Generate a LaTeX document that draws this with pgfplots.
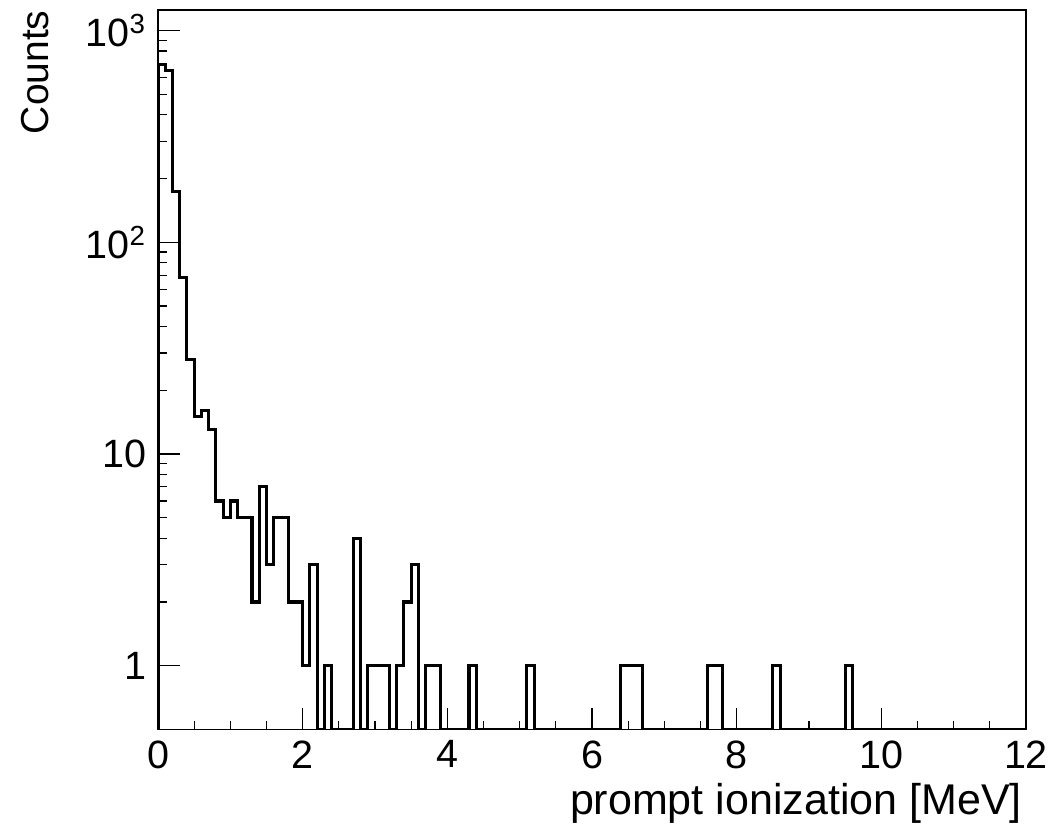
\documentclass[border=0pt]{standalone}
\usepackage{fontspec}
\setmainfont{Liberation Sans}
\usepackage{pgfplots}
\pgfplotsset{compat=1.18}
\begin{document}
\begin{tikzpicture}
\begin{axis}[
  name=ax,
  scale only axis,
  width=347.2pt, height=287.8pt,
  xmin=0, xmax=12,
  ymode=log, ymin=0.5, ymax=1250,
  axis line style={line width=0.5pt},
  xtick={0,2,4,6,8,10,12},
  xticklabels={0,2,4,6,8,10,12},
  minor x tick num=3,
  ytick={1,10,100,1000},
  yticklabels={1,10,10\textsuperscript{2},10\textsuperscript{3}},
  xtick pos=bottom, ytick pos=left,
  tick align=inside,
  major tick length=8.6pt,
  minor tick length=3.6pt,
  every tick/.style={black, line width=0.45pt},
  tick label style={font=\fontsize{15.8}{18}\selectfont},
  xticklabel style={inner sep=0pt, anchor=north, yshift=-4.2pt},
  yticklabel style={inner sep=0pt, anchor=east, xshift=-4.5pt},
  label style={font=\fontsize{15.6}{18}\selectfont},
  xlabel={prompt ionization [MeV]},
  xlabel style={font=\fontsize{17.2}{20}\selectfont, at={(rel axis cs:1,0)}, anchor=north east, inner sep=0pt, yshift=-21.5pt, xshift=-1.5pt},
  ylabel={Counts},
  ylabel style={at={([xshift=-49.2pt]rel axis cs:0,1)}, anchor=east, inner sep=0pt},
  clip=true,
]
\addplot[const plot, black, line width=1.25pt] coordinates {
(0.0,0.5)
(0.0,690) (0.1,650) (0.2,173) (0.3,68) (0.4,28) (0.5,15) (0.6,16) (0.7,13) (0.8,6) (0.9,5)
(1.0,6) (1.1,5) (1.2,5) (1.3,2) (1.4,7) (1.5,3) (1.6,5) (1.7,5) (1.8,2) (1.9,2)
(2.0,1) (2.1,3) (2.2,0.5) (2.3,1) (2.4,0.5) (2.5,0.5) (2.6,0.5) (2.7,4) (2.8,0.5) (2.9,1)
(3.0,1) (3.1,1) (3.2,0.5) (3.3,1) (3.4,2) (3.5,3) (3.6,0.5) (3.7,1) (3.8,1) (3.9,0.5)
(4.0,0.5) (4.1,0.5) (4.2,0.5) (4.3,1) (4.4,0.5) (4.5,0.5) (4.6,0.5) (4.7,0.5) (4.8,0.5) (4.9,0.5)
(5.0,0.5) (5.1,1) (5.2,0.5) (5.3,0.5) (5.4,0.5) (5.5,0.5) (5.6,0.5) (5.7,0.5) (5.8,0.5) (5.9,0.5)
(6.0,0.5) (6.1,0.5) (6.2,0.5) (6.3,0.5) (6.4,1) (6.5,1) (6.6,1) (6.7,0.5) (6.8,0.5) (6.9,0.5)
(7.0,0.5) (7.1,0.5) (7.2,0.5) (7.3,0.5) (7.4,0.5) (7.5,0.5) (7.6,1) (7.7,1) (7.8,0.5) (7.9,0.5)
(8.0,0.5) (8.1,0.5) (8.2,0.5) (8.3,0.5) (8.4,0.5) (8.5,1) (8.6,0.5) (8.7,0.5) (8.8,0.5) (8.9,0.5)
(9.0,0.5) (9.1,0.5) (9.2,0.5) (9.3,0.5) (9.4,0.5) (9.5,1) (9.6,0.5) (9.7,0.5) (9.8,0.5) (9.9,0.5)
(10.0,0.5) (10.1,0.5) (10.2,0.5) (10.3,0.5) (10.4,0.5) (10.5,0.5) (10.6,0.5) (10.7,0.5) (10.8,0.5) (10.9,0.5)
(11.0,0.5) (11.1,0.5) (11.2,0.5) (11.3,0.5) (11.4,0.5) (11.5,0.5) (11.6,0.5) (11.7,0.5) (11.8,0.5) (11.9,0.5)
(12.0,0.5)
};
\end{axis}
\pgfresetboundingbox
\useasboundingbox ([shift={(-63.2pt,-41pt)}]ax.south west) rectangle ([shift={(10pt,4pt)}]ax.north east);
\end{tikzpicture}
\end{document}
